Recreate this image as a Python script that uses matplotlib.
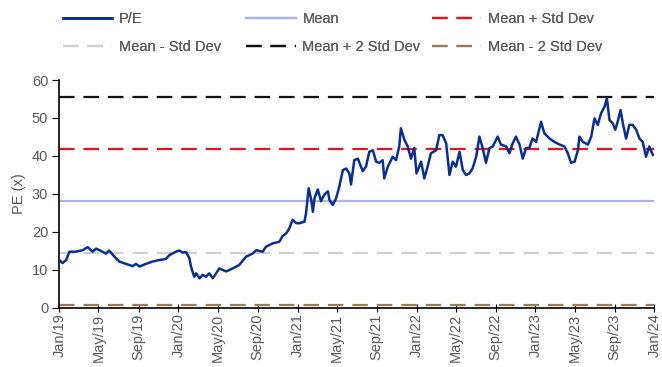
import pandas as pd
import matplotlib.pyplot as plt
import matplotlib.dates as mdates

plt.rcParams['font.family'] = ['Liberation Sans', 'DejaVu Sans']

# P/E series
dates = [
    "2019-01-01", "2019-01-11", "2019-01-22", "2019-02-01", "2019-02-21", "2019-03-14",
    "2019-03-29", "2019-04-13", "2019-04-24", "2019-05-04", "2019-05-24", "2019-06-03",
    "2019-06-19", "2019-07-04", "2019-07-25", "2019-08-14", "2019-08-24", "2019-09-04",
    "2019-09-24", "2019-10-14", "2019-11-04", "2019-11-24", "2019-12-05", "2019-12-25",
    "2020-01-04", "2020-01-14", "2020-01-25", "2020-02-04", "2020-02-09", "2020-02-19",
    "2020-02-25", "2020-03-06", "2020-03-16", "2020-03-26", "2020-04-05", "2020-04-16",
    "2020-05-06", "2020-05-27", "2020-06-16", "2020-07-06", "2020-07-27", "2020-08-16",
    "2020-08-27", "2020-09-16", "2020-09-26", "2020-10-17", "2020-11-06", "2020-11-16",
    "2020-11-27", "2020-12-07", "2020-12-17", "2020-12-28", "2021-01-07", "2021-01-22",
    "2021-01-27", "2021-02-04", "2021-02-12", "2021-02-17", "2021-02-22", "2021-03-04",
    "2021-03-14", "2021-03-24", "2021-04-04", "2021-04-09", "2021-04-19", "2021-04-29",
    "2021-05-09", "2021-05-20", "2021-05-30", "2021-06-09", "2021-06-14", "2021-06-24",
    "2021-07-05", "2021-07-20", "2021-07-30", "2021-08-09", "2021-08-20", "2021-08-30",
    "2021-09-09", "2021-09-19", "2021-09-24", "2021-10-05", "2021-10-20", "2021-10-30",
    "2021-11-09", "2021-11-14", "2021-11-25", "2021-12-05", "2021-12-15", "2021-12-25",
    "2022-01-01", "2022-01-15", "2022-01-25", "2022-02-04", "2022-02-14", "2022-03-02",
    "2022-03-12", "2022-03-22", "2022-04-02", "2022-04-12", "2022-04-22", "2022-05-02",
    "2022-05-13", "2022-05-23", "2022-06-02", "2022-06-12", "2022-06-22", "2022-07-03",
    "2022-07-13", "2022-07-23", "2022-08-02", "2022-08-13", "2022-08-23", "2022-09-07",
    "2022-09-17", "2022-10-03", "2022-10-13", "2022-10-23", "2022-11-02", "2022-11-13",
    "2022-11-23", "2022-12-03", "2022-12-13", "2022-12-23", "2023-01-03", "2023-01-18",
    "2023-01-28", "2023-02-13", "2023-02-28", "2023-03-16", "2023-03-31", "2023-04-10",
    "2023-04-20", "2023-05-01", "2023-05-11", "2023-05-16", "2023-05-26", "2023-06-11",
    "2023-06-21", "2023-07-01", "2023-07-11", "2023-07-21", "2023-08-01", "2023-08-08",
    "2023-08-16", "2023-08-26", "2023-09-03", "2023-09-10", "2023-09-19", "2023-09-26",
    "2023-10-06", "2023-10-16", "2023-10-26", "2023-11-06", "2023-11-16", "2023-11-26",
    "2023-12-06", "2023-12-16", "2023-12-27",
]
pe = [
    12.6, 11.8, 12.6, 14.8, 14.8, 15.2, 16.0, 14.8, 15.6, 15.2, 14.3, 15.1,
    13.5, 12.2, 11.6, 11.0, 11.6, 10.9, 11.6, 12.2, 12.6, 12.9, 13.9, 14.8,
    15.1, 14.6, 14.7, 13.1, 10.9, 8.2, 9.1, 7.8, 8.7, 8.2, 9.1, 7.8,
    10.4, 9.6, 10.4, 11.3, 13.5, 14.3, 15.2, 14.8, 16.1, 17.0, 17.4, 18.9,
    19.6, 21.0, 23.2, 22.3, 22.3, 22.7, 24.9, 31.5, 28.4, 25.3, 28.9, 31.2,
    28.1, 29.8, 30.7, 28.4, 27.1, 28.8, 31.9, 36.3, 36.7, 35.4, 32.5, 38.9,
    39.3, 36.0, 37.2, 41.1, 41.5, 38.5, 38.2, 38.9, 34.1, 37.2, 39.8, 38.9,
    42.5, 47.3, 44.2, 42.5, 39.3, 42.1, 35.4, 38.5, 34.1, 37.2, 40.7, 41.5,
    45.5, 45.5, 43.3, 35.0, 38.5, 37.2, 41.1, 36.3, 35.0, 35.4, 36.7, 39.8,
    45.1, 42.1, 38.2, 42.1, 42.5, 45.1, 43.0, 42.5, 40.7, 43.3, 45.1, 43.0,
    39.3, 42.1, 42.1, 44.6, 43.7, 49.0, 46.0, 44.6, 43.7, 43.0, 42.5, 40.7,
    38.2, 38.5, 41.5, 45.1, 43.7, 43.0, 45.1, 49.9, 48.2, 51.2, 53.0, 55.2,
    49.5, 48.6, 46.9, 49.0, 52.1, 48.6, 44.6, 48.2, 48.2, 46.9, 44.6, 43.7,
    39.8, 42.5, 40.3,
]

mean_val = 28.1
std_val = 13.7

df = pd.DataFrame({"date": pd.to_datetime(dates), "pe": pe})
start, end = pd.Timestamp("2019-01-01"), pd.Timestamp("2024-01-01")
grey = "#595959"
fs = 10.5

fig = plt.figure(figsize=(6.62, 3.67), dpi=100)
ax = fig.add_axes([0.0896, 0.161, 0.899, 0.621])

h_pe, = ax.plot(df["date"], df["pe"], color="#0B2F8E", lw=1.8, label="P/E", zorder=5)
h_mean, = ax.plot([start, end], [mean_val] * 2, color="#A9B7E0", lw=1.6, label="Mean")

bands = [
    ("Mean + Std Dev", mean_val + std_val, "#E3141F"),
    ("Mean - Std Dev", mean_val - std_val, "#CFCFCF"),
    ("Mean + 2 Std Dev", mean_val + 2 * std_val, "#111111"),
    ("Mean - 2 Std Dev", mean_val - 2 * std_val, "#9C7D58"),
]
hb = []
for name, level, col in bands:
    h, = ax.plot([start, end], [level] * 2, color=col, lw=1.6, dashes=(7, 4), label=name)
    hb.append(h)

ax.set_xlim(start, end)
ax.set_ylim(0, 60)
ax.set_yticks(range(0, 61, 10))
ax.xaxis.set_major_locator(mdates.MonthLocator(bymonth=[1, 5, 9]))
ax.xaxis.set_major_formatter(mdates.DateFormatter("%b/%y"))
ax.tick_params(axis="x", rotation=90, labelsize=fs, labelcolor=grey, length=6,
               direction="inout", pad=1)
ax.tick_params(axis="y", labelsize=fs, labelcolor=grey, length=5, pad=3)
ax.set_ylabel("PE (x)", fontsize=fs, color=grey, labelpad=4)

for side in ["top", "right"]:
    ax.spines[side].set_visible(False)
ax.spines["left"].set_linewidth(1.2)
ax.spines["bottom"].set_linewidth(1.2)

# three legend columns laid out row by row
cols = [(h_pe, hb[1]), (h_mean, hb[2]), (hb[0], hb[3])]
for x, pair in zip([0.095, 0.372, 0.652], cols):
    leg = fig.legend(handles=list(pair), loc="upper left", bbox_to_anchor=(x, 0.966),
                     frameon=False, fontsize=fs, handlelength=3.4, handletextpad=0.45,
                     labelspacing=0.95, borderpad=0, borderaxespad=0, labelcolor=grey)
    fig.add_artist(leg)

fig.savefig("out.png", dpi=100)
